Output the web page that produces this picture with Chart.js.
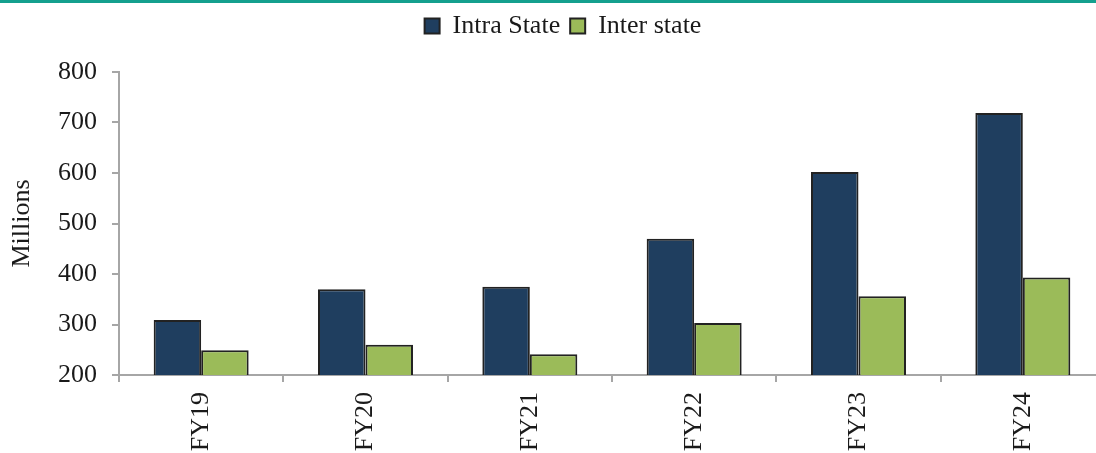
<!DOCTYPE html>
<html>
<head>
<meta charset="utf-8">
<script src="https://cdn.jsdelivr.net/npm/chart.js@4"></script>
<style>
  html, body { margin: 0; padding: 0; background: #fff; overflow: hidden; }
  #wrap { width: 1096px; height: 450px; border-top: 3px solid #14a08e; overflow: hidden; position: relative; }
  #box { width: 1106px; height: 450px; position: absolute; left: 0; top: 0; }
</style>
</head>
<body>
<div id="wrap"><div id="box"><canvas id="chart"></canvas></div></div>
<script>
// datos
const years = ["FY19", "FY20", "FY21", "FY22", "FY23", "FY24"];
const intraState = [309, 370, 375, 470, 602, 719];
const interState = [249, 260, 241, 303, 356, 393];
const yTicks = [200, 300, 400, 500, 600, 700, 800];

const serif = "'Liberation Serif', 'Times New Roman', serif";
const axisGray = '#a6a6a6';

const ctx = document.getElementById('chart').getContext('2d');
new Chart(ctx, {
    type: 'bar',
    data: {
        labels: years,
        datasets: [
            { label: 'Intra State', data: intraState, backgroundColor: '#1f3e5f', borderColor: '#222', borderWidth: 2 },
            { label: 'Inter state', data: interState, backgroundColor: '#9bbb59', borderColor: '#222', borderWidth: 2 }
        ]
    },
    options: {
        responsive: true, maintainAspectRatio: false, animation: false,
        devicePixelRatio: 1,
        layout: { padding: { left: 21, right: 1, top: 0, bottom: 0 } },
        datasets: { bar: { barPercentage: 1, categoryPercentage: 0.578 } },
        plugins: {
            tooltip: { enabled: false },
            legend: {
                position: 'top',
                weight: 1000,
                labels: {
                    font: { family: serif, size: 26 },
                    color: '#1a1a1a',
                    boxWidth: 15, boxHeight: 15,
                    padding: 10
                }
            },
            // espacio vacio entre leyenda y grafico
            title: {
                display: true, text: '', weight: 500,
                font: { size: 1, lineHeight: 1 },
                padding: { top: 22, bottom: 0 }
            }
        },
        scales: {
            x: {
                grid: { drawOnChartArea: false, offset: true, tickLength: 7, color: axisGray, lineWidth: 2 },
                border: { color: axisGray, width: 2 },
                ticks: { font: { family: serif, size: 26 }, color: '#1a1a1a', minRotation: 90, maxRotation: 90, padding: 10 },
                afterFit: s => { s.height = 78; }
            },
            y: {
                min: 200, max: 800,
                afterBuildTicks: s => { s.ticks = yTicks.map(v => ({ value: v })); },
                grid: { drawOnChartArea: false, tickLength: 7, color: axisGray, lineWidth: 2 },
                border: { color: axisGray, width: 2 },
                ticks: { font: { family: serif, size: 26 }, color: '#1a1a1a', padding: 15 },
                title: { display: true, text: 'Millions', font: { family: serif, size: 26, lineHeight: 1 }, color: '#1a1a1a', padding: { top: -12, bottom: 0 } },
                afterFit: s => { s.width = 98; }
            }
        }
    }
});
</script>
</body>
</html>
